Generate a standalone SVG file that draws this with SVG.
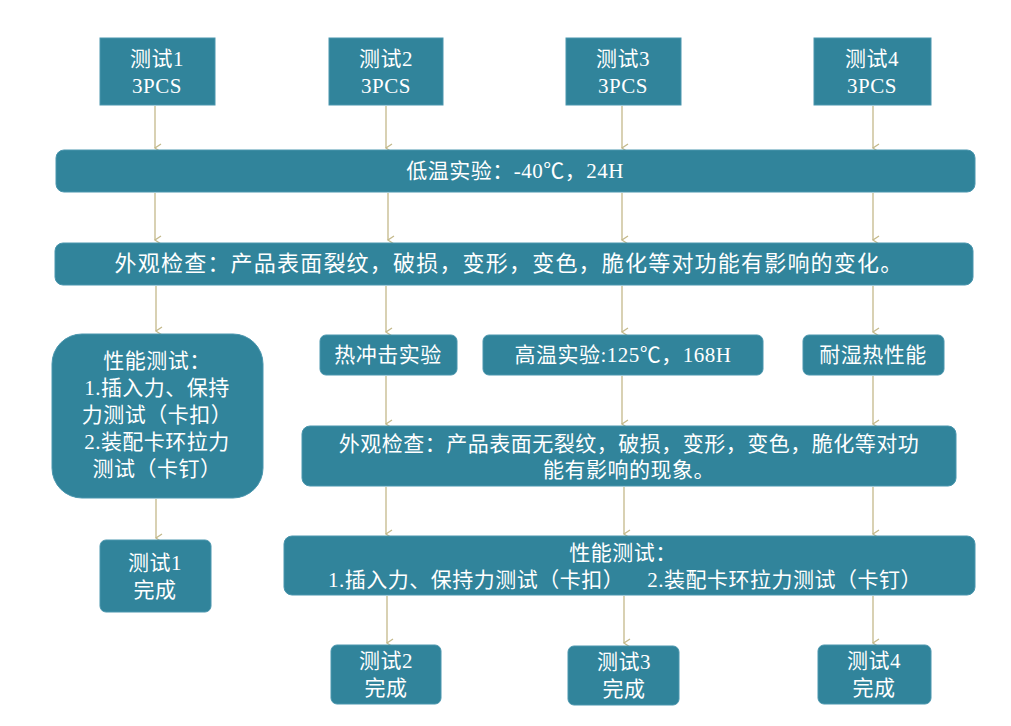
<svg xmlns="http://www.w3.org/2000/svg" width="1011" height="726" viewBox="0 0 1011 726">
<style>
.n{fill:#31849B;stroke:#4A96AE;stroke-width:1}
text{fill:#fff;font-family:"Liberation Serif","Noto Sans CJK SC",serif;font-size:21px;text-anchor:middle;letter-spacing:0.5px}
.c line{stroke:#C4B98A;stroke-width:1.3;marker-end:url(#a)}
</style>
<defs><marker id="a" markerWidth="10" markerHeight="10" refX="5" refY="8" orient="auto-start-reverse" markerUnits="userSpaceOnUse" viewBox="0 0 10 10"><path d="M1,2 L5,8 L9,2" fill="none" stroke="#C4B98A" stroke-width="1.3"/></marker></defs>
<rect width="1011" height="726" fill="#fff"/>
<g class="c">
<line x1="155" y1="106" x2="155" y2="148"/><line x1="386" y1="106" x2="386" y2="148"/><line x1="622" y1="106" x2="622" y2="148"/><line x1="873" y1="106" x2="873" y2="148"/>
<line x1="155" y1="193" x2="155" y2="240"/><line x1="388" y1="193" x2="388" y2="240"/><line x1="622" y1="193" x2="622" y2="240"/><line x1="873" y1="193" x2="873" y2="240"/>
<line x1="156" y1="286" x2="156" y2="331"/><line x1="386" y1="286" x2="386" y2="332"/><line x1="622" y1="286" x2="622" y2="332"/><line x1="873" y1="286" x2="873" y2="332"/>
<line x1="386" y1="376" x2="386" y2="424"/><line x1="622" y1="376" x2="622" y2="424"/><line x1="873" y1="376" x2="873" y2="424"/>
<line x1="156" y1="499" x2="156" y2="538"/>
<line x1="386" y1="487" x2="386" y2="534"/><line x1="624" y1="487" x2="624" y2="534"/><line x1="873" y1="487" x2="873" y2="534"/>
<line x1="387" y1="596" x2="387" y2="643"/><line x1="624" y1="596" x2="624" y2="643"/><line x1="873" y1="596" x2="873" y2="643"/>
</g>
<g id="t1"><rect class="n" x="100" y="38" width="115" height="67"/><text x="157" y="66">测试1</text><text x="157" y="93">3PCS</text></g>
<g id="t2"><rect class="n" x="329" y="38" width="114" height="67"/><text x="386" y="66">测试2</text><text x="386" y="93">3PCS</text></g>
<g id="t3"><rect class="n" x="566" y="38" width="115" height="67"/><text x="623" y="66">测试3</text><text x="623" y="93">3PCS</text></g>
<g id="t4"><rect class="n" x="814" y="38" width="117" height="67"/><text x="872" y="66">测试4</text><text x="872" y="93">3PCS</text></g>
<g id="low"><rect class="n" x="56" y="150" width="919" height="42" rx="8"/><text x="515" y="178">低温实验：-40℃，24H</text></g>
<g id="insp1"><rect class="n" x="55" y="243" width="918" height="42" rx="8"/><text x="509" y="271" style="font-size:22px;letter-spacing:1.2px">外观检查：产品表面裂纹，破损，变形，变色，脆化等对功能有影响的变化。</text></g>
<g id="perf1"><rect class="n" x="52" y="334" width="211" height="164" rx="30"/><text x="157" y="368">性能测试：</text><text x="157" y="395">1.插入力、保持</text><text x="157" y="422">力测试（卡扣）</text><text x="157" y="449">2.装配卡环拉力</text><text x="157" y="476">测试（卡钉）</text></g>
<g id="shock"><rect class="n" x="320" y="335" width="137" height="40" rx="6"/><text x="388" y="362">热冲击实验</text></g>
<g id="high"><rect class="n" x="483" y="335" width="280" height="40" rx="6"/><text x="623" y="362">高温实验:125℃，168H</text></g>
<g id="humid"><rect class="n" x="803" y="335" width="141" height="40" rx="6"/><text x="873" y="362">耐湿热性能</text></g>
<g id="insp2"><rect class="n" x="302" y="426" width="654" height="60" rx="8"/><text x="629" y="451">外观检查：产品表面无裂纹，破损，变形，变色，脆化等对功</text><text x="629" y="477">能有影响的现象。</text></g>
<g id="perf2"><rect class="n" x="284" y="536" width="691" height="59" rx="8"/><text x="623" y="560">性能测试：</text><text x="625" y="587" xml:space="preserve">1.插入力、保持力测试（卡扣）    2.装配卡环拉力测试（卡钉）</text></g>
<g id="d1"><rect class="n" x="100" y="540" width="111" height="72" rx="6"/><text x="155" y="570">测试1</text><text x="155" y="597">完成</text></g>
<g id="d2"><rect class="n" x="331" y="645" width="110" height="59" rx="6"/><text x="386" y="668">测试2</text><text x="386" y="695">完成</text></g>
<g id="d3"><rect class="n" x="568" y="646" width="111" height="59" rx="6"/><text x="624" y="669">测试3</text><text x="624" y="696">完成</text></g>
<g id="d4"><rect class="n" x="818" y="645" width="113" height="59" rx="6"/><text x="874" y="668">测试4</text><text x="874" y="695">完成</text></g>
</svg>
